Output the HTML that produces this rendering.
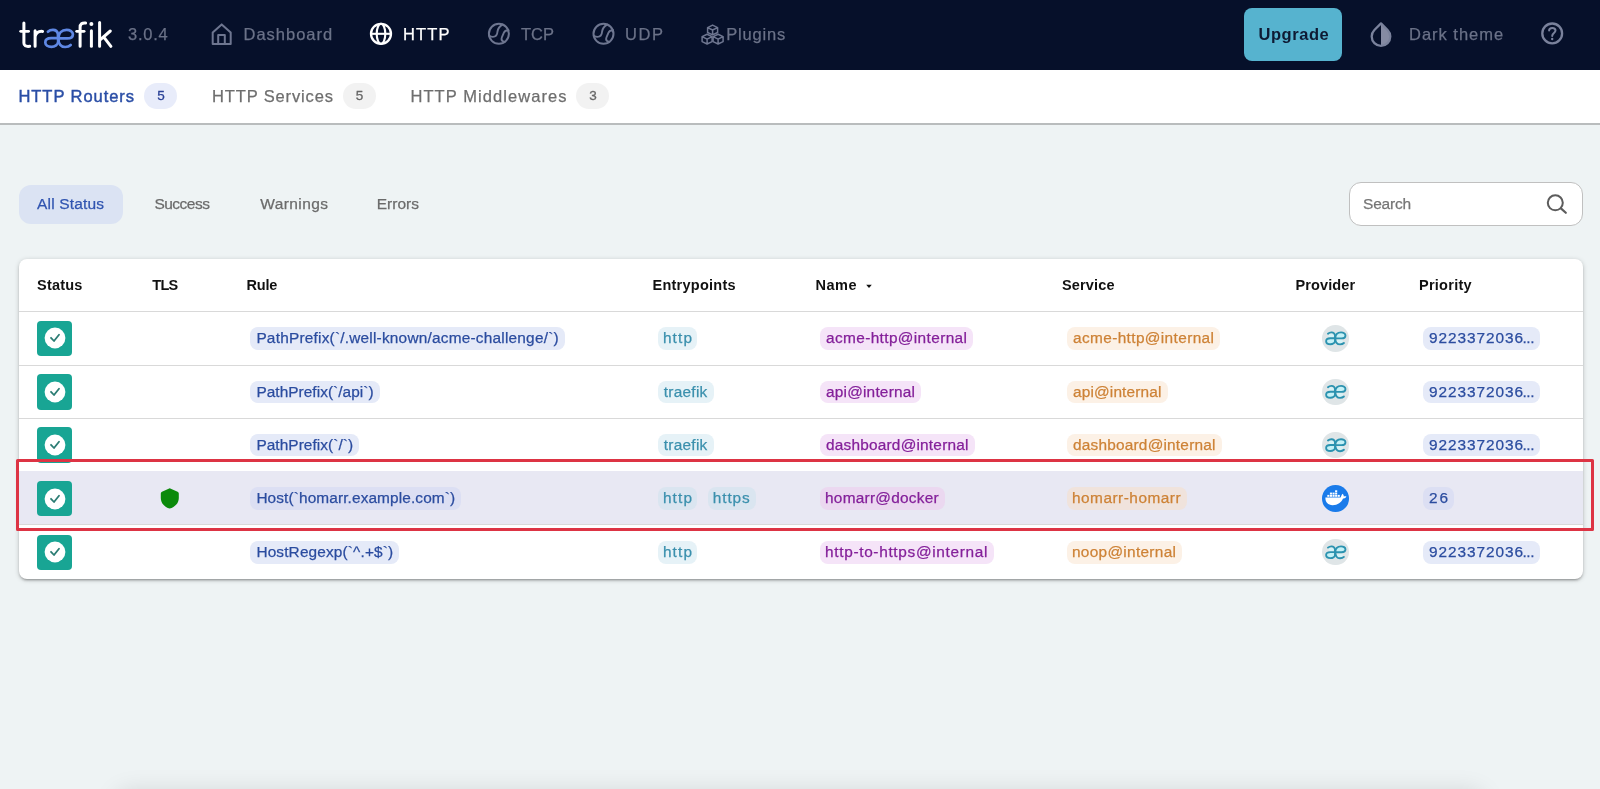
<!DOCTYPE html>
<html>
<head>
<meta charset="utf-8">
<title>Traefik</title>
<style>
*{box-sizing:border-box;margin:0;padding:0}
html,body{width:1600px;height:789px;overflow:hidden}
body{background:#eef3f4;font-family:"Liberation Sans",sans-serif;position:relative;color:#222}
.a{position:absolute}
.t{position:absolute;white-space:pre;line-height:1}
#txt{position:absolute;left:0;top:0;width:1600px;height:789px;will-change:transform}
.c{position:absolute;height:22.5px;border-radius:8px}
#hdr{position:absolute;left:0;top:0;width:1600px;height:70px;background:#06102a}
#sub{position:absolute;left:0;top:70px;width:1600px;height:55px;background:#fff;border-bottom:2px solid #b9bcbd}
.badge{position:absolute;top:83.2px;height:26.3px;width:33px;border-radius:13.1px;background:#f2f2f2}
#card{position:absolute;left:19px;top:259px;width:1564.3px;height:320.2px;background:#fff;border-radius:8px;box-shadow:0 1px 5px rgba(0,0,0,.2),0 2px 2px rgba(0,0,0,.14),0 3px 1px -2px rgba(0,0,0,.12);overflow:hidden}
.row{position:absolute;left:0;width:1565px;border-top:1px solid #d9d9d9}
.st{position:absolute;left:36.5px;width:35.6px;height:35.6px;border-radius:4px;background:#18a594}
.prov{position:absolute;left:1322.35px;width:26.6px;height:26.6px;border-radius:50%;background:#dfe5e7}
svg{position:absolute;overflow:visible}
</style>
</head>
<body>
<div id="hdr"></div>
<div id="sub"></div>

<!-- badges -->
<div class="badge" style="left:144px;background:#e8ecfa"></div>
<div class="badge" style="left:342.5px"></div>
<div class="badge" style="left:576px"></div>

<!-- upgrade button -->
<div class="a" style="left:1244px;top:7.5px;width:98px;height:53.5px;border-radius:8px;background:#56b3cf"></div>

<!-- filter pill + search -->
<div class="a" style="left:19px;top:184.5px;width:104px;height:39.5px;border-radius:12px;background:#dbe3f3"></div>
<div class="a" style="left:1349.4px;top:182.3px;width:233.7px;height:44.2px;border-radius:12px;background:#fff;border:1.3px solid #c0c0c0"></div>

<!-- table card -->
<div id="card">
  <div class="row" style="top:52px;height:54px"></div>
  <div class="row" style="top:105.5px;height:54px"></div>
  <div class="row" style="top:159px;height:54px"></div>
  <div class="row" style="top:212px;height:54px;background:#e8e8f3;border-top-color:#e8e8f3"></div>
  <div class="row" style="top:265px;height:55px"></div>
</div>

<div class="st" style="top:320.6px"></div><svg width="24" height="24" style="left:43px;top:326.3px" viewBox="-12 -12 24 24"><circle cx="0" cy="0" r="10.4" fill="#fff"/><path d="M-4,-0.2 L-1,3 L4,-3.2" stroke="#2a7c73" stroke-width="1.8" fill="none" stroke-linecap="round" stroke-linejoin="round"/></svg>
<div class="st" style="top:374.1px"></div><svg width="24" height="24" style="left:43px;top:379.8px" viewBox="-12 -12 24 24"><circle cx="0" cy="0" r="10.4" fill="#fff"/><path d="M-4,-0.2 L-1,3 L4,-3.2" stroke="#2a7c73" stroke-width="1.8" fill="none" stroke-linecap="round" stroke-linejoin="round"/></svg>
<div class="st" style="top:427.4px"></div><svg width="24" height="24" style="left:43px;top:433.1px" viewBox="-12 -12 24 24"><circle cx="0" cy="0" r="10.4" fill="#fff"/><path d="M-4,-0.2 L-1,3 L4,-3.2" stroke="#2a7c73" stroke-width="1.8" fill="none" stroke-linecap="round" stroke-linejoin="round"/></svg>
<div class="st" style="top:480.8px"></div><svg width="24" height="24" style="left:43px;top:486.5px" viewBox="-12 -12 24 24"><circle cx="0" cy="0" r="10.4" fill="#fff"/><path d="M-4,-0.2 L-1,3 L4,-3.2" stroke="#2a7c73" stroke-width="1.8" fill="none" stroke-linecap="round" stroke-linejoin="round"/></svg>
<div class="st" style="top:534.5px"></div><svg width="24" height="24" style="left:43px;top:540.2px" viewBox="-12 -12 24 24"><circle cx="0" cy="0" r="10.4" fill="#fff"/><path d="M-4,-0.2 L-1,3 L4,-3.2" stroke="#2a7c73" stroke-width="1.8" fill="none" stroke-linecap="round" stroke-linejoin="round"/></svg>
<div class="prov" style="top:325.0px"></div><svg width="1" height="1" style="left:0;top:0"><g transform="translate(1294.42,311.49) scale(0.7)"><ellipse cx="51.6" cy="42.5" rx="5.2" ry="3.4" fill="#c4f1f7"/><ellipse cx="66" cy="34.3" rx="5.6" ry="3.4" fill="#c4f1f7"/><ellipse cx="52.5" cy="34.5" rx="4" ry="2.4" fill="#d5f3f7"/><ellipse cx="65" cy="42.6" rx="4.4" ry="2.6" fill="#d5f3f7"/><path d="M47.9,31.7 C50.2,29.6 56.6,28.4 57.9,33.6 L58.2,42.6" stroke="#2b93b0" stroke-width="2.7" fill="none" stroke-linecap="round" stroke-linejoin="round"/><path d="M58,38.2 L51.3,38.2 C46.8,38.2 45.3,40.4 45.3,42.4 C45.3,45 48,46.8 51.4,46.8 C55,46.8 58,44.6 58.2,42" stroke="#2b93b0" stroke-width="2.7" fill="none" stroke-linecap="round" stroke-linejoin="round"/><path d="M58.2,38.4 L67.2,38.4 C71.2,38.4 72.9,36.4 72.9,34.2 C72.9,31.5 70,29.9 66.6,29.9 C61.6,29.9 58.5,33.2 58.4,38.4 C58.3,44 61,47 65.2,47 C67.6,47 69.5,46.2 70.7,45" stroke="#2b93b0" stroke-width="2.7" fill="none" stroke-linecap="round" stroke-linejoin="round"/></g></svg>
<div class="prov" style="top:378.5px"></div><svg width="1" height="1" style="left:0;top:0"><g transform="translate(1294.42,364.99) scale(0.7)"><ellipse cx="51.6" cy="42.5" rx="5.2" ry="3.4" fill="#c4f1f7"/><ellipse cx="66" cy="34.3" rx="5.6" ry="3.4" fill="#c4f1f7"/><ellipse cx="52.5" cy="34.5" rx="4" ry="2.4" fill="#d5f3f7"/><ellipse cx="65" cy="42.6" rx="4.4" ry="2.6" fill="#d5f3f7"/><path d="M47.9,31.7 C50.2,29.6 56.6,28.4 57.9,33.6 L58.2,42.6" stroke="#2b93b0" stroke-width="2.7" fill="none" stroke-linecap="round" stroke-linejoin="round"/><path d="M58,38.2 L51.3,38.2 C46.8,38.2 45.3,40.4 45.3,42.4 C45.3,45 48,46.8 51.4,46.8 C55,46.8 58,44.6 58.2,42" stroke="#2b93b0" stroke-width="2.7" fill="none" stroke-linecap="round" stroke-linejoin="round"/><path d="M58.2,38.4 L67.2,38.4 C71.2,38.4 72.9,36.4 72.9,34.2 C72.9,31.5 70,29.9 66.6,29.9 C61.6,29.9 58.5,33.2 58.4,38.4 C58.3,44 61,47 65.2,47 C67.6,47 69.5,46.2 70.7,45" stroke="#2b93b0" stroke-width="2.7" fill="none" stroke-linecap="round" stroke-linejoin="round"/></g></svg>
<div class="prov" style="top:431.8px"></div><svg width="1" height="1" style="left:0;top:0"><g transform="translate(1294.42,418.29) scale(0.7)"><ellipse cx="51.6" cy="42.5" rx="5.2" ry="3.4" fill="#c4f1f7"/><ellipse cx="66" cy="34.3" rx="5.6" ry="3.4" fill="#c4f1f7"/><ellipse cx="52.5" cy="34.5" rx="4" ry="2.4" fill="#d5f3f7"/><ellipse cx="65" cy="42.6" rx="4.4" ry="2.6" fill="#d5f3f7"/><path d="M47.9,31.7 C50.2,29.6 56.6,28.4 57.9,33.6 L58.2,42.6" stroke="#2b93b0" stroke-width="2.7" fill="none" stroke-linecap="round" stroke-linejoin="round"/><path d="M58,38.2 L51.3,38.2 C46.8,38.2 45.3,40.4 45.3,42.4 C45.3,45 48,46.8 51.4,46.8 C55,46.8 58,44.6 58.2,42" stroke="#2b93b0" stroke-width="2.7" fill="none" stroke-linecap="round" stroke-linejoin="round"/><path d="M58.2,38.4 L67.2,38.4 C71.2,38.4 72.9,36.4 72.9,34.2 C72.9,31.5 70,29.9 66.6,29.9 C61.6,29.9 58.5,33.2 58.4,38.4 C58.3,44 61,47 65.2,47 C67.6,47 69.5,46.2 70.7,45" stroke="#2b93b0" stroke-width="2.7" fill="none" stroke-linecap="round" stroke-linejoin="round"/></g></svg>
<div class="prov" style="top:485.2px;background:#1a7bea"></div><svg width="1" height="1" style="left:0;top:0"><path d="M1325.4,497.6 H1340.6 C1341.2,496 1341.6,494.8 1342.6,493.8 C1343.6,494.8 1343.9,495.8 1343.8,496.6 C1344.8,496 1345.8,496.2 1346.4,496.6 C1345.8,498 1344.4,498.6 1343,498.6 C1341.4,502.6 1337.8,505.2 1332.6,505.2 C1328,505.2 1325.2,502.4 1325.4,497.6 Z" fill="#fff"/><rect x="1327.3" y="494.9" width="2.1" height="1.9" fill="#fff"/><rect x="1329.9" y="494.9" width="2.1" height="1.9" fill="#fff"/><rect x="1332.5" y="494.9" width="2.1" height="1.9" fill="#fff"/><rect x="1335.1" y="494.9" width="2.1" height="1.9" fill="#fff"/><rect x="1337.7" y="494.9" width="2.1" height="1.9" fill="#fff"/><rect x="1329.9" y="492.6" width="2.1" height="1.9" fill="#fff"/><rect x="1332.5" y="492.6" width="2.1" height="1.9" fill="#fff"/><rect x="1335.1" y="492.6" width="2.1" height="1.9" fill="#fff"/><rect x="1335.1" y="490.3" width="2.1" height="1.9" fill="#fff"/></svg>
<div class="prov" style="top:538.9px"></div><svg width="1" height="1" style="left:0;top:0"><g transform="translate(1294.42,525.39) scale(0.7)"><ellipse cx="51.6" cy="42.5" rx="5.2" ry="3.4" fill="#c4f1f7"/><ellipse cx="66" cy="34.3" rx="5.6" ry="3.4" fill="#c4f1f7"/><ellipse cx="52.5" cy="34.5" rx="4" ry="2.4" fill="#d5f3f7"/><ellipse cx="65" cy="42.6" rx="4.4" ry="2.6" fill="#d5f3f7"/><path d="M47.9,31.7 C50.2,29.6 56.6,28.4 57.9,33.6 L58.2,42.6" stroke="#2b93b0" stroke-width="2.7" fill="none" stroke-linecap="round" stroke-linejoin="round"/><path d="M58,38.2 L51.3,38.2 C46.8,38.2 45.3,40.4 45.3,42.4 C45.3,45 48,46.8 51.4,46.8 C55,46.8 58,44.6 58.2,42" stroke="#2b93b0" stroke-width="2.7" fill="none" stroke-linecap="round" stroke-linejoin="round"/><path d="M58.2,38.4 L67.2,38.4 C71.2,38.4 72.9,36.4 72.9,34.2 C72.9,31.5 70,29.9 66.6,29.9 C61.6,29.9 58.5,33.2 58.4,38.4 C58.3,44 61,47 65.2,47 C67.6,47 69.5,46.2 70.7,45" stroke="#2b93b0" stroke-width="2.7" fill="none" stroke-linecap="round" stroke-linejoin="round"/></g></svg>
<svg width="1600" height="789" viewBox="0 0 1600 789" style="left:0;top:0"><path d="M23.9,22.9 V43 C23.9,45.6 25.6,46.8 29.7,46.3" stroke="#ffffff" stroke-width="3.0" fill="none" stroke-linecap="round"/><path d="M20.7,31.3 H28.6" stroke="#ffffff" stroke-width="2.8" fill="none" stroke-linecap="round"/><path d="M35.1,30.8 V46.3 M35.1,36.5 C36.2,32.6 39,31 42.6,31.4" stroke="#ffffff" stroke-width="3.0" fill="none" stroke-linecap="round"/><path d="M47.9,31.7 C50.2,29.6 56.6,28.4 57.9,33.6 L58.2,42.6" stroke="#5f88e4" stroke-width="2.7" fill="none" stroke-linecap="round" stroke-linejoin="round"/><path d="M58,38.2 L51.3,38.2 C46.8,38.2 45.3,40.4 45.3,42.4 C45.3,45 48,46.8 51.4,46.8 C55,46.8 58,44.6 58.2,42" stroke="#5f88e4" stroke-width="2.7" fill="none" stroke-linecap="round" stroke-linejoin="round"/><path d="M58.2,38.4 L67.2,38.4 C71.2,38.4 72.9,36.4 72.9,34.2 C72.9,31.5 70,29.9 66.6,29.9 C61.6,29.9 58.5,33.2 58.4,38.4 C58.3,44 61,47 65.2,47 C67.6,47 69.5,46.2 70.7,45" stroke="#5f88e4" stroke-width="2.7" fill="none" stroke-linecap="round" stroke-linejoin="round"/><path d="M80.1,46.3 V27.5 C80.1,24 82,22.6 85.6,23" stroke="#ffffff" stroke-width="3.0" fill="none" stroke-linecap="round"/><path d="M76.7,31.3 H84.1" stroke="#ffffff" stroke-width="2.8" fill="none" stroke-linecap="round"/><path d="M91.4,30.8 V46.3" stroke="#ffffff" stroke-width="3.0" fill="none" stroke-linecap="round"/><circle cx="91.4" cy="24" r="2" fill="#ffffff"/><path d="M99.6,22.6 V46.3 M100.4,39.6 L110.3,31 M103.8,37.2 L110.9,46.3" stroke="#ffffff" stroke-width="3.0" fill="none" stroke-linecap="round"/><path d="M212.7,32.6 L221.7,24.4 L230.7,32.6 V43.9 H212.7 Z" stroke="#6e7690" stroke-width="2" fill="none" stroke-linejoin="round"/><path d="M218.2,43.9 V35 H224.8 V43.9" stroke="#6e7690" stroke-width="2" fill="none" stroke-linejoin="round"/><circle cx="381" cy="33.8" r="10" stroke="#ffffff" stroke-width="2.3" fill="none"/><ellipse cx="381" cy="33.8" rx="4.3" ry="10" stroke="#ffffff" stroke-width="2.1" fill="none"/><path d="M371,33.8 H391" stroke="#ffffff" stroke-width="2.1"/><circle cx="498.9" cy="33.8" r="10" stroke="#6e7690" stroke-width="2" fill="none"/><path d="M502.5,24.6 C499.4,26.5 497.9,28.5 497.5,31.5 C497.3,34.5 495.9,36.8 492.9,36.9 C491.4,36.9 490.2,36.4 489.2,35.8" stroke="#6e7690" stroke-width="1.9" fill="none" stroke-linecap="round"/><path d="M508.5,30.2 C506.4,30.2 504.5,30.8 503.7,33.0 C502.9,35.5 501.5,37.0 501.5,39.0 C501.5,40.6 502.9,41.6 504.7,42.0" stroke="#6e7690" stroke-width="1.9" fill="none" stroke-linecap="round"/><circle cx="603.5" cy="33.8" r="10" stroke="#6e7690" stroke-width="2" fill="none"/><path d="M607.1,24.6 C604.0,26.5 602.5,28.5 602.1,31.5 C601.9,34.5 600.5,36.8 597.5,36.9 C596.0,36.9 594.8,36.4 593.8,35.8" stroke="#6e7690" stroke-width="1.9" fill="none" stroke-linecap="round"/><path d="M613.1,30.2 C611.0,30.2 609.1,30.8 608.3,33.0 C607.5,35.5 606.1,37.0 606.1,39.0 C606.1,40.6 607.5,41.6 609.3,42.0" stroke="#6e7690" stroke-width="1.9" fill="none" stroke-linecap="round"/><path d="M712.6,25.1 L717.6,27.6 L717.6,32.5 L712.6,34.9 L707.6,32.5 L707.6,27.6 Z M707.6,27.6 L712.6,30.0 L717.6,27.6 M712.6,30.0 V34.9" stroke="#6e7690" stroke-width="1.5" fill="none" stroke-linejoin="round"/><path d="M707.1,34.2 L712.1,36.6 L712.1,41.6 L707.1,44.0 L702.1,41.6 L702.1,36.6 Z M702.1,36.6 L707.1,39.1 L712.1,36.6 M707.1,39.1 V44.0" stroke="#6e7690" stroke-width="1.5" fill="none" stroke-linejoin="round"/><path d="M718.1,34.2 L723.1,36.6 L723.1,41.6 L718.1,44.0 L713.1,41.6 L713.1,36.6 Z M713.1,36.6 L718.1,39.1 L723.1,36.6 M718.1,39.1 V44.0" stroke="#6e7690" stroke-width="1.5" fill="none" stroke-linejoin="round"/><path d="M1381,23.4 L1387.6,30 A9.3,9.3 0 0 1 1381,45.9 Z" fill="#858ba3"/><path d="M1381,23.4 L1387.6,30 A9.3,9.3 0 1 1 1374.4,30 Z" stroke="#7a829c" stroke-width="2.3" fill="none" stroke-linejoin="round"/><circle cx="1552.2" cy="33.4" r="9.9" stroke="#7a829c" stroke-width="2.3" fill="none"/><path d="M1549.1000000000001,30.599999999999998 C1549.1000000000001,27.2 1555.5,27.2 1555.5,30.599999999999998 C1555.5,33.0 1552.2,33.199999999999996 1552.2,36.0" stroke="#7a829c" stroke-width="2" fill="none" stroke-linecap="round"/><circle cx="1552.2" cy="39.0" r="1.2" fill="#7a829c"/><circle cx="1555.3" cy="202.8" r="7.5" stroke="#5c5c5c" stroke-width="2" fill="none"/><path d="M1560.9,208.4 L1565.8,212.8" stroke="#5c5c5c" stroke-width="2.2" stroke-linecap="round"/><path d="M866.2,284.8 H871.8 L869,287.9 Z" fill="#111"/><path d="M169.7,488.3 L177.6,491.7 C178.4,492 178.8,492.6 178.8,493.4 V498 C178.8,503 175.2,507 169.7,508.6 C164.3,507 160.8,503 160.8,498 V493.4 C160.8,492.6 161.2,492 162,491.7 Z" fill="#0b8a0b"/></svg>

<div class="c" style="left:250.2px;top:327.1px;width:314.8px;background:#e5eaf8"></div>
<div class="c" style="left:657.9px;top:327.1px;width:39.5px;background:#e6f2f7"></div>
<div class="c" style="left:819.5px;top:327.1px;width:153.5px;background:#f5e4f8"></div>
<div class="c" style="left:1066.5px;top:327.1px;width:153.5px;background:#fcf1e6"></div>
<div class="c" style="left:1422.5px;top:327.1px;width:117.4px;background:#e5eaf8"></div>
<div class="c" style="left:250.2px;top:380.6px;width:129.8px;background:#e5eaf8"></div>
<div class="c" style="left:657.7px;top:380.6px;width:55.9px;background:#e6f2f7"></div>
<div class="c" style="left:819.5px;top:380.6px;width:101.5px;background:#f5e4f8"></div>
<div class="c" style="left:1066.5px;top:380.6px;width:101.0px;background:#fcf1e6"></div>
<div class="c" style="left:1422.5px;top:380.6px;width:117.4px;background:#e5eaf8"></div>
<div class="c" style="left:250.2px;top:433.9px;width:109.3px;background:#e5eaf8"></div>
<div class="c" style="left:657.7px;top:433.9px;width:55.9px;background:#e6f2f7"></div>
<div class="c" style="left:819.5px;top:433.9px;width:155.0px;background:#f5e4f8"></div>
<div class="c" style="left:1066.5px;top:433.9px;width:155.0px;background:#fcf1e6"></div>
<div class="c" style="left:1422.5px;top:433.9px;width:117.4px;background:#e5eaf8"></div>
<div class="c" style="left:250.2px;top:487.2px;width:211.3px;background:#dcdff3"></div>
<div class="c" style="left:657.9px;top:487.2px;width:39.5px;background:#dae5f0"></div>
<div class="c" style="left:707.8px;top:487.2px;width:48.2px;background:#dae5f0"></div>
<div class="c" style="left:819.5px;top:487.2px;width:125.5px;background:#ebd8f0"></div>
<div class="c" style="left:1066.5px;top:487.2px;width:120.5px;background:#f0e3dc"></div>
<div class="c" style="left:1422.5px;top:487.2px;width:31.5px;background:#dcdff3"></div>
<div class="c" style="left:250.2px;top:541.0px;width:149.3px;background:#e5eaf8"></div>
<div class="c" style="left:657.9px;top:541.0px;width:39.5px;background:#e6f2f7"></div>
<div class="c" style="left:819.5px;top:541.0px;width:174.0px;background:#f5e4f8"></div>
<div class="c" style="left:1066.5px;top:541.0px;width:115.5px;background:#fcf1e6"></div>
<div class="c" style="left:1422.5px;top:541.0px;width:117.4px;background:#e5eaf8"></div>
<div id="txt">
<div class="t" style="left:128.00px;top:26.03px;font-size:16.5px;color:#6b7288;letter-spacing:0.745px;-webkit-text-stroke:0.25px #6b7288">3.0.4</div>
<div class="t" style="left:243.50px;top:26.03px;font-size:16.5px;color:#6b7288;letter-spacing:0.995px;-webkit-text-stroke:0.25px #6b7288">Dashboard</div>
<div class="t" style="left:403.00px;top:26.03px;font-size:16.5px;color:#ffffff;letter-spacing:1.142px;-webkit-text-stroke:0.25px #ffffff">HTTP</div>
<div class="t" style="left:521.00px;top:26.03px;font-size:16.5px;color:#6b7288;letter-spacing:0.003px;-webkit-text-stroke:0.25px #6b7288">TCP</div>
<div class="t" style="left:625.00px;top:26.03px;font-size:16.5px;color:#6b7288;letter-spacing:1.584px;-webkit-text-stroke:0.25px #6b7288">UDP</div>
<div class="t" style="left:726.20px;top:26.03px;font-size:16.5px;color:#6b7288;letter-spacing:0.822px;-webkit-text-stroke:0.25px #6b7288">Plugins</div>
<div class="t" style="left:1258.50px;top:26.03px;font-size:16.5px;color:#0e1a33;letter-spacing:0.542px;font-weight:bold">Upgrade</div>
<div class="t" style="left:1409.00px;top:26.03px;font-size:16.5px;color:#6b7288;letter-spacing:0.989px;-webkit-text-stroke:0.25px #6b7288">Dark theme</div>
<div class="t" style="left:18.50px;top:88.03px;font-size:16.5px;color:#2a4ea6;letter-spacing:0.938px;-webkit-text-stroke:0.45px #2a4ea6">HTTP Routers</div>
<div class="t" style="left:212.00px;top:88.03px;font-size:16.5px;color:#6e6e6e;letter-spacing:0.860px;-webkit-text-stroke:0.25px #6e6e6e">HTTP Services</div>
<div class="t" style="left:410.50px;top:88.03px;font-size:16.5px;color:#6e6e6e;letter-spacing:1.065px;-webkit-text-stroke:0.25px #6e6e6e">HTTP Middlewares</div>
<div class="t" style="left:157.15px;top:89.37px;font-size:13.5px;color:#2a4196;letter-spacing:0.000px;-webkit-text-stroke:0.3px #2a4196">5</div>
<div class="t" style="left:355.80px;top:89.37px;font-size:13.5px;color:#666666;letter-spacing:0.000px;-webkit-text-stroke:0.3px #666666">5</div>
<div class="t" style="left:589.25px;top:89.37px;font-size:13.5px;color:#666666;letter-spacing:0.000px;-webkit-text-stroke:0.3px #666666">3</div>
<div class="t" style="left:37.00px;top:196.28px;font-size:15.5px;color:#3054b0;letter-spacing:0.175px;-webkit-text-stroke:0.25px #3054b0">All Status</div>
<div class="t" style="left:154.40px;top:196.28px;font-size:15.5px;color:#6b6b6b;letter-spacing:-0.505px;-webkit-text-stroke:0.25px #6b6b6b">Success</div>
<div class="t" style="left:260.30px;top:196.28px;font-size:15.5px;color:#6b6b6b;letter-spacing:0.394px;-webkit-text-stroke:0.25px #6b6b6b">Warnings</div>
<div class="t" style="left:376.70px;top:196.28px;font-size:15.5px;color:#6b6b6b;letter-spacing:0.011px;-webkit-text-stroke:0.25px #6b6b6b">Errors</div>
<div class="t" style="left:1363.00px;top:196.28px;font-size:15.5px;color:#757575;letter-spacing:-0.198px;-webkit-text-stroke:0.25px #757575">Search</div>
<div class="t" style="left:37.00px;top:277.63px;font-size:14.5px;color:#111111;letter-spacing:0.210px;font-weight:bold">Status</div>
<div class="t" style="left:152.20px;top:277.63px;font-size:14.5px;color:#111111;letter-spacing:-0.657px;font-weight:bold">TLS</div>
<div class="t" style="left:246.50px;top:277.63px;font-size:14.5px;color:#111111;letter-spacing:-0.186px;font-weight:bold">Rule</div>
<div class="t" style="left:652.50px;top:277.63px;font-size:14.5px;color:#111111;letter-spacing:0.251px;font-weight:bold">Entrypoints</div>
<div class="t" style="left:815.50px;top:277.63px;font-size:14.5px;color:#111111;letter-spacing:0.524px;font-weight:bold">Name</div>
<div class="t" style="left:1062.00px;top:277.63px;font-size:14.5px;color:#111111;letter-spacing:0.161px;font-weight:bold">Service</div>
<div class="t" style="left:1295.50px;top:277.63px;font-size:14.5px;color:#111111;letter-spacing:0.116px;font-weight:bold">Provider</div>
<div class="t" style="left:1419.00px;top:277.63px;font-size:14.5px;color:#111111;letter-spacing:0.257px;font-weight:bold">Priority</div>
<div class="t" style="left:256.40px;top:330.16px;font-size:15.4px;color:#2b4c9f;letter-spacing:0.216px;-webkit-text-stroke:0.25px #2b4c9f">PathPrefix(`/.well-known/acme-challenge/`)</div>
<div class="t" style="left:662.90px;top:330.16px;font-size:15.4px;color:#3b90ad;letter-spacing:1.129px;-webkit-text-stroke:0.25px #3b90ad">http</div>
<div class="t" style="left:826.00px;top:330.16px;font-size:15.4px;color:#84209a;letter-spacing:0.376px;-webkit-text-stroke:0.25px #84209a">acme-http@internal</div>
<div class="t" style="left:1073.00px;top:330.16px;font-size:15.4px;color:#cd8236;letter-spacing:0.376px;-webkit-text-stroke:0.25px #cd8236">acme-http@internal</div>
<div class="t" style="left:1429.00px;top:330.16px;font-size:15.4px;color:#2b4c9f;letter-spacing:0.929px;-webkit-text-stroke:0.25px #2b4c9f">9223372036</div>
<div class="t" style="left:1522.40px;top:330.16px;font-size:15.4px;color:#2b4c9f;letter-spacing:-0.376px;-webkit-text-stroke:0.25px #2b4c9f">...</div>
<div class="t" style="left:256.40px;top:383.66px;font-size:15.4px;color:#2b4c9f;letter-spacing:0.053px;-webkit-text-stroke:0.25px #2b4c9f">PathPrefix(`/api`)</div>
<div class="t" style="left:663.70px;top:383.66px;font-size:15.4px;color:#3b90ad;letter-spacing:0.281px;-webkit-text-stroke:0.25px #3b90ad">traefik</div>
<div class="t" style="left:826.00px;top:383.66px;font-size:15.4px;color:#84209a;letter-spacing:0.207px;-webkit-text-stroke:0.25px #84209a">api@internal</div>
<div class="t" style="left:1073.00px;top:383.66px;font-size:15.4px;color:#cd8236;letter-spacing:0.162px;-webkit-text-stroke:0.25px #cd8236">api@internal</div>
<div class="t" style="left:1429.00px;top:383.66px;font-size:15.4px;color:#2b4c9f;letter-spacing:0.929px;-webkit-text-stroke:0.25px #2b4c9f">9223372036</div>
<div class="t" style="left:1522.40px;top:383.66px;font-size:15.4px;color:#2b4c9f;letter-spacing:-0.376px;-webkit-text-stroke:0.25px #2b4c9f">...</div>
<div class="t" style="left:256.40px;top:436.96px;font-size:15.4px;color:#2b4c9f;letter-spacing:0.068px;-webkit-text-stroke:0.25px #2b4c9f">PathPrefix(`/`)</div>
<div class="t" style="left:663.70px;top:436.96px;font-size:15.4px;color:#3b90ad;letter-spacing:0.281px;-webkit-text-stroke:0.25px #3b90ad">traefik</div>
<div class="t" style="left:826.00px;top:436.96px;font-size:15.4px;color:#84209a;letter-spacing:0.211px;-webkit-text-stroke:0.25px #84209a">dashboard@internal</div>
<div class="t" style="left:1073.00px;top:436.96px;font-size:15.4px;color:#cd8236;letter-spacing:0.211px;-webkit-text-stroke:0.25px #cd8236">dashboard@internal</div>
<div class="t" style="left:1429.00px;top:436.96px;font-size:15.4px;color:#2b4c9f;letter-spacing:0.929px;-webkit-text-stroke:0.25px #2b4c9f">9223372036</div>
<div class="t" style="left:1522.40px;top:436.96px;font-size:15.4px;color:#2b4c9f;letter-spacing:-0.376px;-webkit-text-stroke:0.25px #2b4c9f">...</div>
<div class="t" style="left:256.40px;top:490.36px;font-size:15.4px;color:#2b4c9f;letter-spacing:0.115px;-webkit-text-stroke:0.25px #2b4c9f">Host(`homarr.example.com`)</div>
<div class="t" style="left:662.90px;top:490.36px;font-size:15.4px;color:#3b90ad;letter-spacing:1.129px;-webkit-text-stroke:0.25px #3b90ad">http</div>
<div class="t" style="left:712.80px;top:490.36px;font-size:15.4px;color:#3b90ad;letter-spacing:0.882px;-webkit-text-stroke:0.25px #3b90ad">https</div>
<div class="t" style="left:825.00px;top:490.36px;font-size:15.4px;color:#84209a;letter-spacing:0.255px;-webkit-text-stroke:0.25px #84209a">homarr@docker</div>
<div class="t" style="left:1072.00px;top:490.36px;font-size:15.4px;color:#cd8236;letter-spacing:0.500px;-webkit-text-stroke:0.25px #cd8236">homarr-homarr</div>
<div class="t" style="left:1429.00px;top:490.36px;font-size:15.4px;color:#2b4c9f;letter-spacing:1.940px;-webkit-text-stroke:0.25px #2b4c9f">26</div>
<div class="t" style="left:256.40px;top:544.06px;font-size:15.4px;color:#2b4c9f;letter-spacing:0.146px;-webkit-text-stroke:0.25px #2b4c9f">HostRegexp(`^.+$`)</div>
<div class="t" style="left:662.90px;top:544.06px;font-size:15.4px;color:#3b90ad;letter-spacing:1.129px;-webkit-text-stroke:0.25px #3b90ad">http</div>
<div class="t" style="left:825.00px;top:544.06px;font-size:15.4px;color:#84209a;letter-spacing:0.676px;-webkit-text-stroke:0.25px #84209a">http-to-https@internal</div>
<div class="t" style="left:1072.00px;top:544.06px;font-size:15.4px;color:#cd8236;letter-spacing:0.298px;-webkit-text-stroke:0.25px #cd8236">noop@internal</div>
<div class="t" style="left:1429.00px;top:544.06px;font-size:15.4px;color:#2b4c9f;letter-spacing:0.929px;-webkit-text-stroke:0.25px #2b4c9f">9223372036</div>
<div class="t" style="left:1522.40px;top:544.06px;font-size:15.4px;color:#2b4c9f;letter-spacing:-0.376px;-webkit-text-stroke:0.25px #2b4c9f">...</div>
</div>

<div class="a" style="left:120px;top:796px;width:1360px;height:30px;border-radius:10px;box-shadow:0 0 24px 4px rgba(0,0,0,.13)"></div>
<!-- red annotation -->
<div class="a" style="left:15.7px;top:458.5px;width:1578.5px;height:72.5px;border:3.2px solid #dd3444;border-radius:1.5px"></div>
</body>
</html>
